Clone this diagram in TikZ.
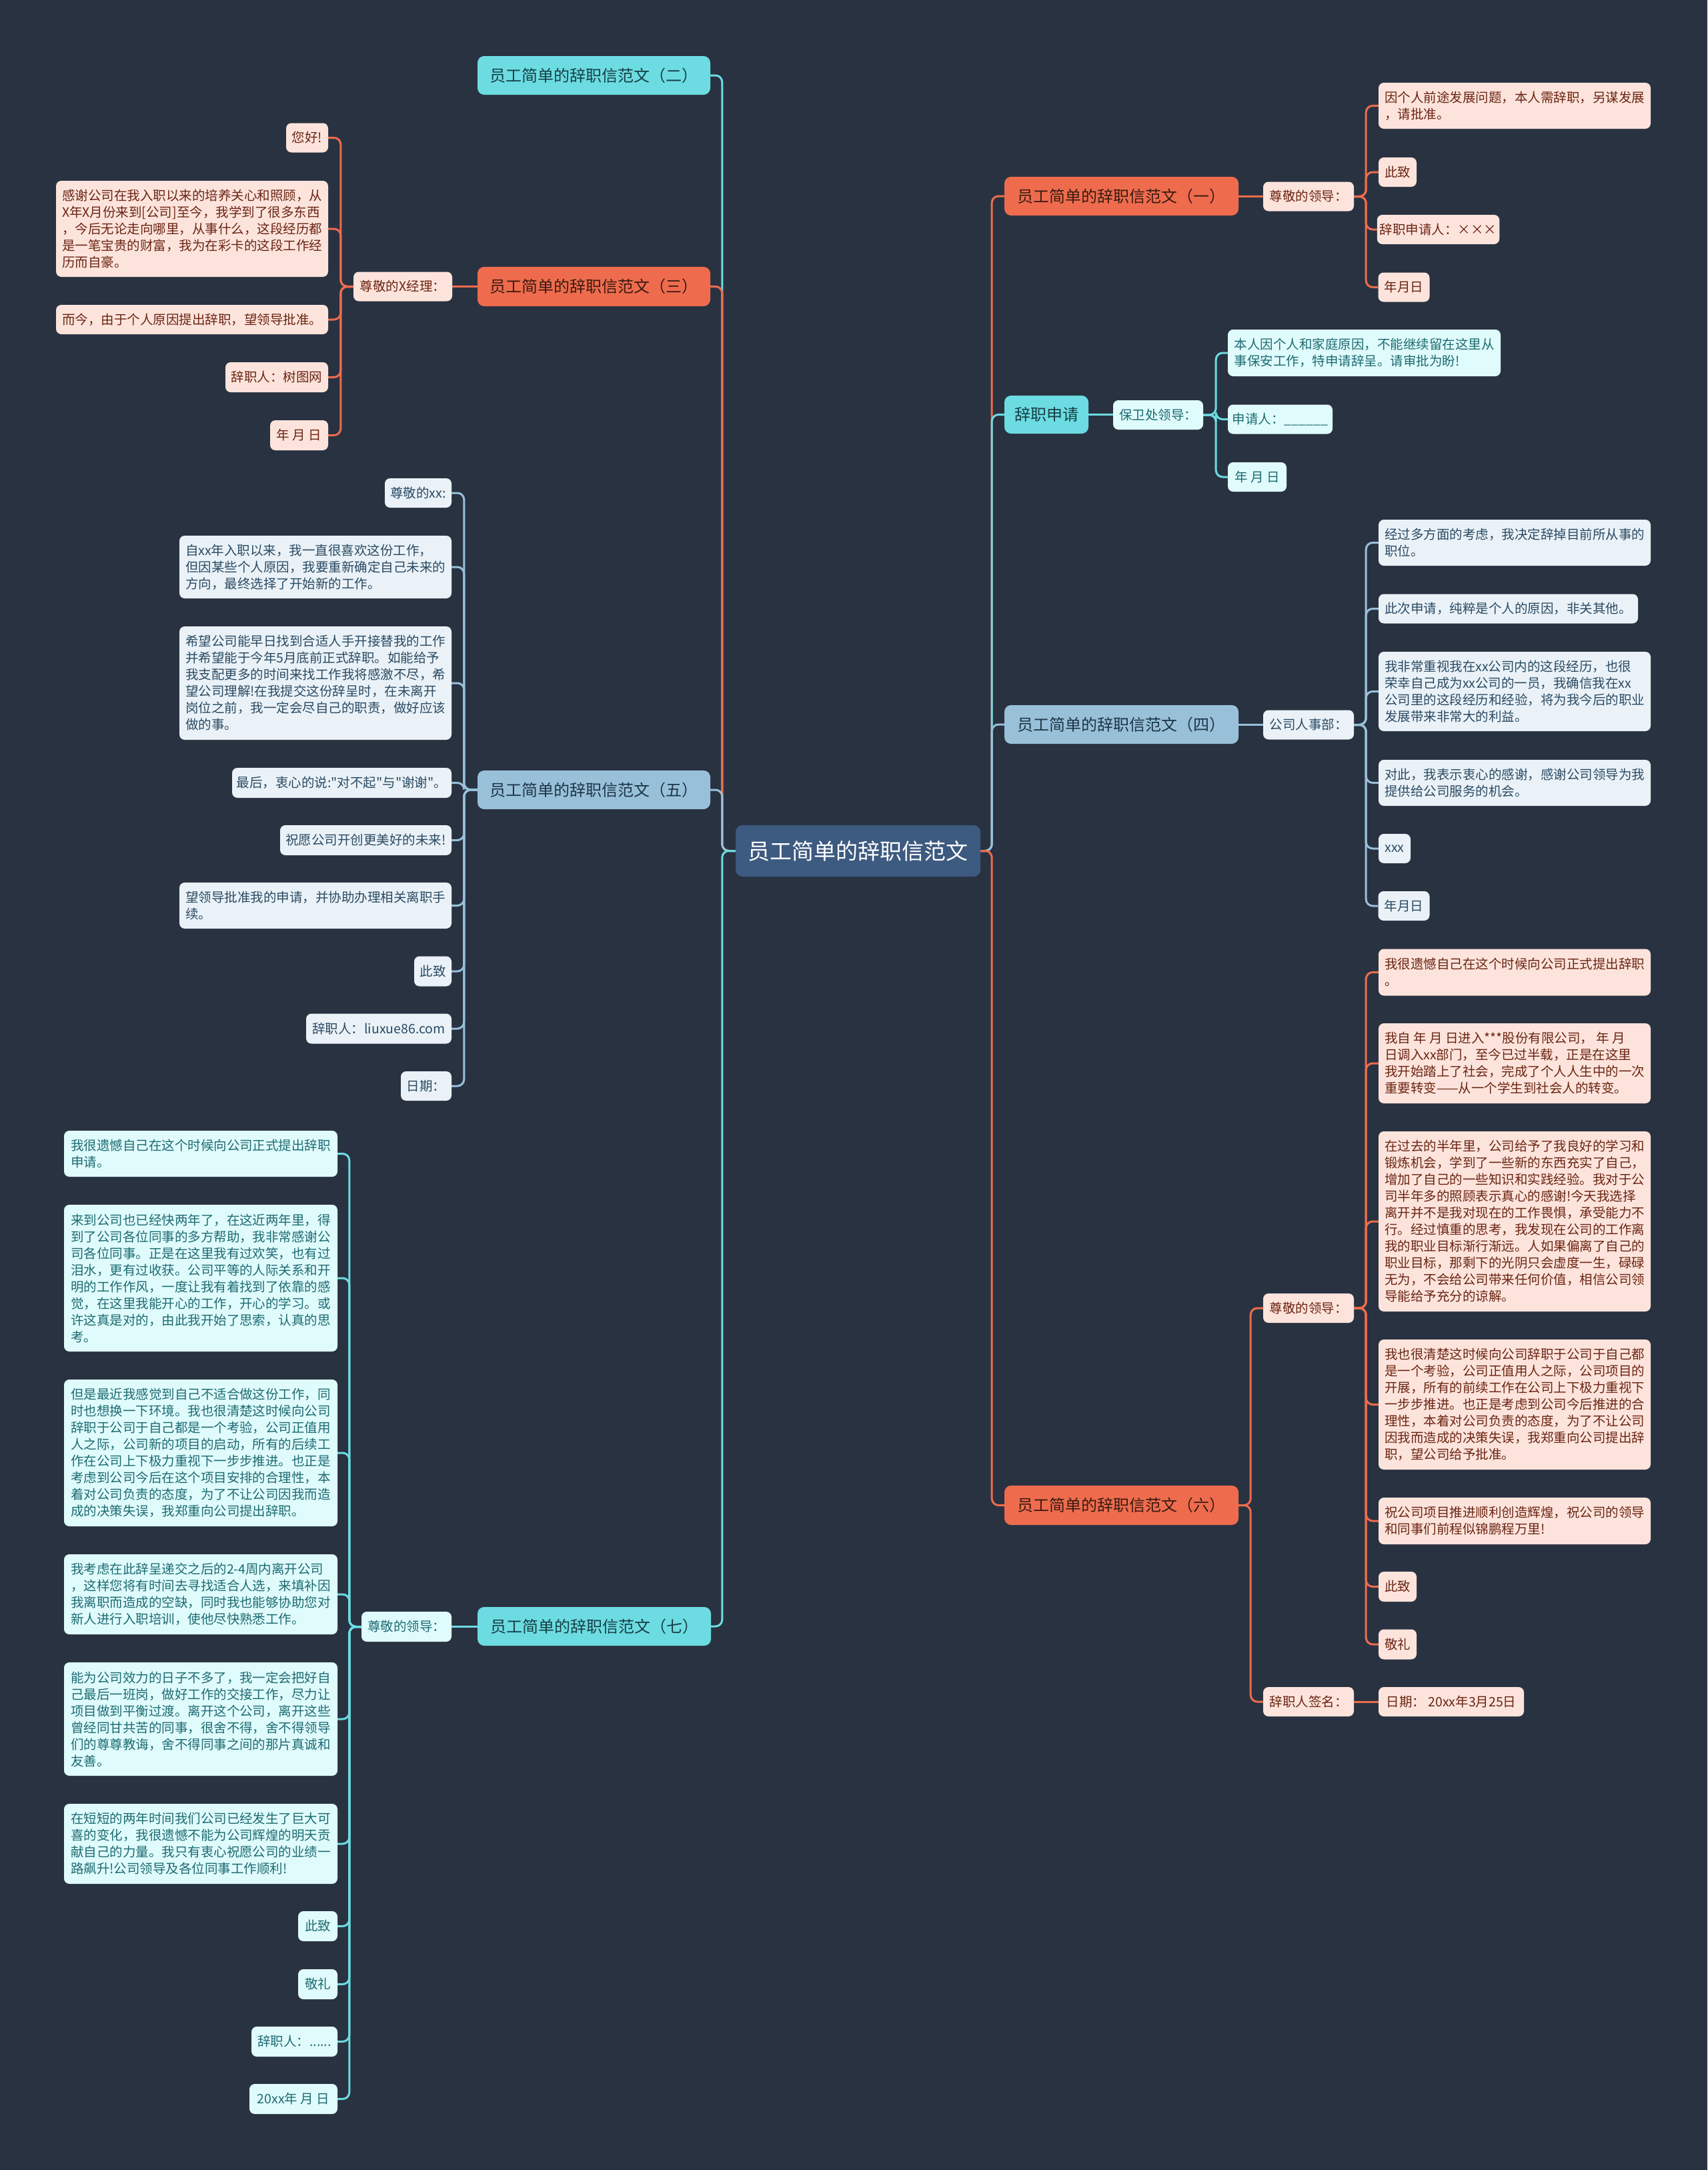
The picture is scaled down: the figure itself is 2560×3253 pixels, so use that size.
\documentclass[tikz,border=0pt]{standalone}
\usepackage{fontspec}
\setmainfont{Noto Sans CJK SC}[Ligatures=TeXOff]
\definecolor{bgc}{HTML}{293241}
\definecolor{cen}{HTML}{3D5A80}
\definecolor{co}{HTML}{EE6C4D}
\definecolor{cb}{HTML}{98C1D9}
\definecolor{cc}{HTML}{6CDCE2}
\definecolor{lo}{HTML}{FCE4DC}
\definecolor{lot}{HTML}{6B2412}
\definecolor{lb}{HTML}{EAF2F8}
\definecolor{lbt}{HTML}{2A4A62}
\definecolor{lc}{HTML}{E0FBFC}
\definecolor{lct}{HTML}{1C6B72}
\definecolor{cot}{HTML}{3A1A12}
\definecolor{cbt}{HTML}{1E3447}
\definecolor{cct}{HTML}{163F44}
\newcommand\leaftxt{\fontsize{19.5}{25}\selectfont}
\newcommand\brtxt{\fontsize{24}{30}\selectfont}
\newcommand\centxt{\fontsize{33}{40}\selectfont}
\newcommand\mnode[6]{\node[#1, minimum width=#4, minimum height=#5] (#2) at (#3) {#6};}
\pgfdeclarelayer{back}
\pgfdeclarelayer{mid}
\pgfsetlayers{back,mid,main}
\begin{document}
\begin{tikzpicture}[x=1pt,y=-1pt,
  base/.style={rounded corners=8pt, inner xsep=4pt, inner ysep=0pt, align=left, font=\leaftxt},
  leafO/.style={base, fill=lo, text=lot},
  leafB/.style={base, fill=lb, text=lbt},
  leafC/.style={base, fill=lc, text=lct},
  brbase/.style={rounded corners=10pt, inner sep=0pt, font=\brtxt},
  brO/.style={brbase, fill=co, text=cot},
  brB/.style={brbase, fill=cb, text=cbt},
  brC/.style={brbase, fill=cc, text=cct},
  cennode/.style={rounded corners=10pt, inner sep=0pt, fill=cen, text=white, font=\centxt},
  ln/.style={line width=3pt, rounded corners=10pt},
  lnO/.style={ln, draw=co},
  lnB/.style={ln, draw=cb},
  lnC/.style={ln, draw=cc}]
\useasboundingbox (0,0) rectangle (2560,3253);
\begin{pgfonlayer}{back}
\fill[bgc] (0,0) rectangle (2560,3253);
\end{pgfonlayer}

% center
\mnode{cennode}{C}{1286.5,1275.5}{367}{77}{员工简单的辞职信范文}

% branches
\mnode{brO}{B1}{1681.5,294}{351}{58}{员工简单的辞职信范文（一）}
\mnode{brC}{BS}{1569,621.5}{126}{57}{辞职申请}
\mnode{brB}{B4}{1681.5,1086}{351}{58}{员工简单的辞职信范文（四）}
\mnode{brO}{B6}{1681.5,2256.5}{351}{59}{员工简单的辞职信范文（六）}
\mnode{brC}{B2}{890.5,113}{349}{58}{员工简单的辞职信范文（二）}
\mnode{brO}{B3}{890.5,429.5}{349}{59}{员工简单的辞职信范文（三）}
\mnode{brB}{B5}{890.5,1184}{349}{58}{员工简单的辞职信范文（五）}
\mnode{brC}{B7}{891,2438}{350}{58}{员工简单的辞职信范文（七）}

% intermediates
\mnode{leafO}{I1}{1962,294.5}{136}{44}{尊敬的领导：}
\mnode{leafC}{IS}{1736.5,622}{135}{44}{保卫处领导：}
\mnode{leafB}{I4}{1962,1086.5}{136}{44}{公司人事部：}
\mnode{leafO}{I6a}{1962,1961}{136}{44}{尊敬的领导：}
\mnode{leafO}{I6b}{1962,2551}{136}{44}{辞职人签名：}
\mnode{leafO}{I3}{604,429.5}{148}{44}{尊敬的X经理：}
\mnode{leafC}{I7}{609.5,2438.5}{135}{45}{尊敬的领导：}

% leaves of (一)
\mnode{leafO}{L1a}{2271,158.5}{408}{69}{因个人前途发展问题，本人需辞职，另谋发展\\，请批准。}
\mnode{leafO}{L1b}{2095.5,258}{57}{44}{此致}
\mnode{leafO}{L1c}{2156.5,344}{179}{44}{辞职申请人：×××}
\mnode{leafO}{L1d}{2105,430.5}{77}{44}{年月日}

% leaves of 辞职申请
\mnode{leafC}{LSa}{2045.5,529}{409}{70}{本人因个人和家庭原因，不能继续留在这里从\\事保安工作，特申请辞呈。请审批为盼!}
\mnode{leafC}{LSb}{1919.5,628.5}{157}{44}{申请人：\_\_\_\_\_\_}
\mnode{leafC}{LSc}{1885,715}{88}{44}{年 月 日}

% leaves of (四)
\mnode{leafB}{L4a}{2271,813.5}{408}{69}{经过多方面的考虑，我决定辞掉目前所从事的\\职位。}
\mnode{leafB}{L4b}{2261.5,912.5}{389}{44}{此次申请，纯粹是个人的原因，非关其他。}
\mnode{leafB}{L4c}{2271,1036.5}{408}{119}{我非常重视我在xx公司内的这段经历，也很\\荣幸自己成为xx公司的一员，我确信我在xx\\公司里的这段经历和经验，将为我今后的职业\\发展带来非常大的利益。}
\mnode{leafB}{L4d}{2271,1173.5}{408}{69}{对此，我表示衷心的感谢，感谢公司领导为我\\提供给公司服务的机会。}
\mnode{leafB}{L4e}{2091,1272}{48}{44}{xxx}
\mnode{leafB}{L4f}{2105,1358}{77}{44}{年月日}

% leaves of (六)
\mnode{leafO}{L6a}{2271,1457.5}{408}{70}{我很遗憾自己在这个时候向公司正式提出辞职\\。}
\mnode{leafO}{L6b}{2271,1594}{408}{120}{我自 年 月 日进入***股份有限公司， 年 月\\日调入xx部门，至今已过半载，正是在这里\\我开始踏上了社会，完成了个人人生中的一次\\重要转变——从一个学生到社会人的转变。}
\mnode{leafO}{L6c}{2271,1831}{408}{270}{在过去的半年里，公司给予了我良好的学习和\\锻炼机会，学到了一些新的东西充实了自己，\\增加了自己的一些知识和实践经验。我对于公\\司半年多的照顾表示真心的感谢!今天我选择\\离开并不是我对现在的工作畏惧，承受能力不\\行。经过慎重的思考，我发现在公司的工作离\\我的职业目标渐行渐远。人如果偏离了自己的\\职业目标，那剩下的光阴只会虚度一生，碌碌\\无为，不会给公司带来任何价值，相信公司领\\导能给予充分的谅解。}
\mnode{leafO}{L6d}{2271,2105.5}{408}{195}{我也很清楚这时候向公司辞职于公司于自己都\\是一个考验，公司正值用人之际，公司项目的\\开展，所有的前续工作在公司上下极力重视下\\一步步推进。也正是考虑到公司今后推进的合\\理性，本着对公司负责的态度，为了不让公司\\因我而造成的决策失误，我郑重向公司提出辞\\职，望公司给予批准。}
\mnode{leafO}{L6e}{2271,2280}{408}{70}{祝公司项目推进顺利创造辉煌，祝公司的领导\\和同事们前程似锦鹏程万里!}
\mnode{leafO}{L6f}{2095.5,2378.5}{57}{45}{此致}
\mnode{leafO}{L6g}{2095.5,2465}{57}{45}{敬礼}
\mnode{leafO}{L6h}{2176,2551}{218}{44}{日期： 20xx年3月25日}

% leaves of (三)
\mnode{leafO}{L3a}{460.5,206.5}{63}{44}{您好!}
\mnode{leafO}{L3b}{288,343}{408}{144}{感谢公司在我入职以来的培养关心和照顾，从\\X年X月份来到[公司]至今，我学到了很多东西\\，今后无论走向哪里，从事什么，这段经历都\\是一笔宝贵的财富，我为在彩卡的这段工作经\\历而自豪。}
\mnode{leafO}{L3c}{288,479}{408}{44}{而今，由于个人原因提出辞职，望领导批准。}
\mnode{leafO}{L3d}{415,565.5}{154}{45}{辞职人：树图网}
\mnode{leafO}{L3e}{448.5,652.5}{87}{45}{年 月 日}

% leaves of (五)
\mnode{leafB}{L5a}{627,739}{100}{44}{尊敬的xx:}
\mnode{leafB}{L5b}{473,850}{408}{94}{自xx年入职以来，我一直很喜欢这份工作，\\但因某些个人原因，我要重新确定自己未来的\\方向，最终选择了开始新的工作。}
\mnode{leafB}{L5c}{473,1024}{408}{170}{希望公司能早日找到合适人手开接替我的工作\\并希望能于今年5月底前正式辞职。如能给予\\我支配更多的时间来找工作我将感激不尽，希\\望公司理解!在我提交这份辞呈时，在未离开\\岗位之前，我一定会尽自己的职责，做好应该\\做的事。}
\mnode{leafB}{L5d}{512.5,1173.5}{329}{45}{最后，衷心的说:"对不起"与"谢谢"。}
\mnode{leafB}{L5e}{548.5,1259.5}{257}{45}{祝愿公司开创更美好的未来!}
\mnode{leafB}{L5f}{473,1357.5}{408}{69}{望领导批准我的申请，并协助办理相关离职手\\续。}
\mnode{leafB}{L5g}{649,1456}{56}{45}{此致}
\mnode{leafB}{L5h}{568,1542}{218}{45}{辞职人：liuxue86.com}
\mnode{leafB}{L5i}{639,1628}{76}{44}{日期：}

% leaves of (七)
\mnode{leafC}{L7a}{301,1729.5}{410}{69}{我很遗憾自己在这个时候向公司正式提出辞职\\申请。}
\mnode{leafC}{L7b}{301,1916}{410}{220}{来到公司也已经快两年了，在这近两年里，得\\到了公司各位同事的多方帮助，我非常感谢公\\司各位同事。正是在这里我有过欢笑，也有过\\泪水，更有过收获。公司平等的人际关系和开\\明的工作作风，一度让我有着找到了依靠的感\\觉，在这里我能开心的工作，开心的学习。或\\许这真是对的，由此我开始了思索，认真的思\\考。}
\mnode{leafC}{L7c}{301,2178}{410}{220}{但是最近我感觉到自己不适合做这份工作，同\\时也想换一下环境。我也很清楚这时候向公司\\辞职于公司于自己都是一个考验，公司正值用\\人之际，公司新的项目的启动，所有的后续工\\作在公司上下极力重视下一步步推进。也正是\\考虑到公司今后在这个项目安排的合理性，本\\着对公司负责的态度，为了不让公司因我而造\\成的决策失误，我郑重向公司提出辞职。}
\mnode{leafC}{L7d}{301,2390}{410}{120}{我考虑在此辞呈递交之后的2-4周内离开公司\\，这样您将有时间去寻找适合人选，来填补因\\我离职而造成的空缺，同时我也能够协助您对\\新人进行入职培训，使他尽快熟悉工作。}
\mnode{leafC}{L7e}{301,2577}{410}{170}{能为公司效力的日子不多了，我一定会把好自\\己最后一班岗，做好工作的交接工作，尽力让\\项目做到平衡过渡。离开这个公司，离开这些\\曾经同甘共苦的同事，很舍不得，舍不得领导\\们的尊尊教诲，舍不得同事之间的那片真诚和\\友善。}
\mnode{leafC}{L7f}{301,2764}{410}{120}{在短短的两年时间我们公司已经发生了巨大可\\喜的变化，我很遗憾不能为公司辉煌的明天贡\\献自己的力量。我只有衷心祝愿公司的业绩一\\路飙升!公司领导及各位同事工作顺利!}
\mnode{leafC}{L7g}{476.5,2887.5}{59}{45}{此致}
\mnode{leafC}{L7h}{476.5,2974.5}{59}{45}{敬礼}
\mnode{leafC}{L7i}{441.5,3060.5}{129}{45}{辞职人：......}
\mnode{leafC}{L7j}{440,3146.5}{132}{45}{20xx年 月 日}

% connectors
\begin{pgfonlayer}{mid}
\draw[lnO] (C.east) -- ++(17,0) |- (B1.west);
\draw[lnC] (C.east) -- ++(17,0) |- (BS.west);
\draw[lnB] (C.east) -- ++(17,0) |- (B4.west);
\draw[lnO] (C.east) -- ++(17,0) |- (B6.west);
\draw[lnC] (C.west) -- ++(-20,0) |- (B2.east);
\draw[lnO] (C.west) -- ++(-20,0) |- (B3.east);
\draw[lnB] (C.west) -- ++(-20,0) |- (B5.east);
\draw[lnC] (C.west) -- ++(-20,0) |- (B7.east);

\draw[lnO] (B1.east) -- (B1.east -| I1.west);
\foreach \n in {L1a,L1b,L1c,L1d} \draw[lnO] (I1.east) -- ++(18,0) |- (\n.west);
\draw[lnC] (BS.east) -- (BS.east -| IS.west);
\foreach \n in {LSa,LSb,LSc} \draw[lnC] (IS.east) -- ++(19,0) |- (\n.west);
\draw[lnB] (B4.east) -- (B4.east -| I4.west);
\foreach \n in {L4a,L4b,L4c,L4d,L4e,L4f} \draw[lnB] (I4.east) -- ++(18,0) |- (\n.west);
\draw[lnO] (B6.east) -- ++(18,0) |- (I6a.west);
\draw[lnO] (B6.east) -- ++(18,0) |- (I6b.west);
\foreach \n in {L6a,L6b,L6c,L6d,L6e,L6f,L6g} \draw[lnO] (I6a.east) -- ++(18,0) |- (\n.west);
\draw[lnO] (I6b.east) -- (I6b.east -| L6h.west);

\draw[lnO] (B3.west) -- (B3.west -| I3.east);
\foreach \n in {L3a,L3b,L3c,L3d,L3e} \draw[lnO] (I3.west) -- ++(-19,0) |- (\n.east);
\foreach \n in {L5a,L5b,L5c,L5d,L5e,L5f,L5g,L5h,L5i} \draw[lnB] (B5.west) -- ++(-20,0) |- (\n.east);
\draw[lnC] (B7.west) -- (B7.west -| I7.east);
\foreach \n in {L7a,L7b,L7c,L7d,L7e,L7f,L7g,L7h,L7i,L7j} \draw[lnC] (I7.west) -- ++(-18,0) |- (\n.east);
\end{pgfonlayer}
\end{tikzpicture}
\end{document}
